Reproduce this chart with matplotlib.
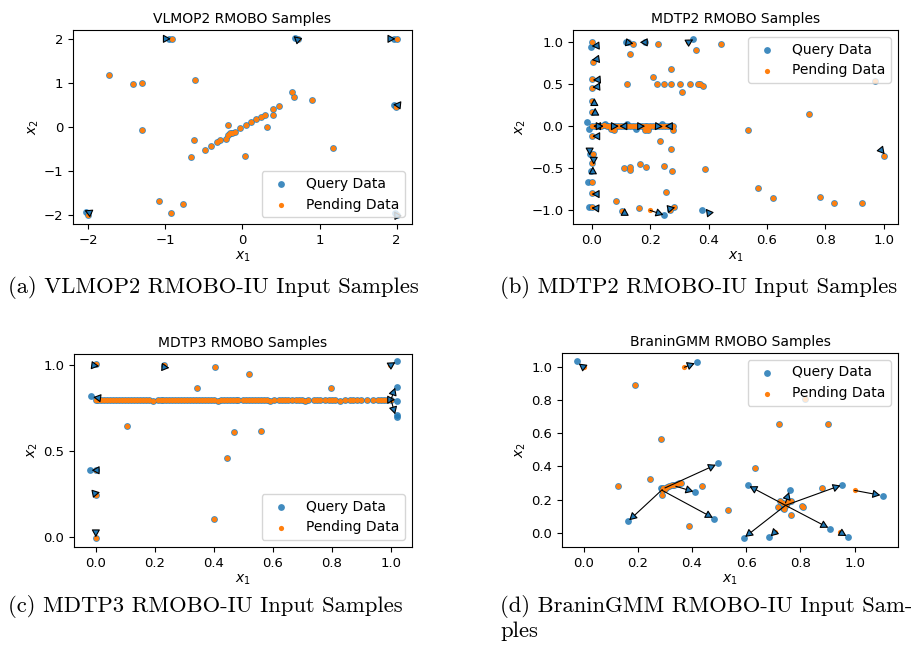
import matplotlib
matplotlib.use("Agg")
from matplotlib import pyplot as plt

#
# VLMOP2 samples (query == pending unless listed apart)
#
vlmop2_x = [-0.92, 0.72, 2.0, 1.99, -2.0, 2.0, -1.73, -1.42, -1.31, -0.61, -1.30, -0.635,
            -0.67, -0.49, -0.41, -0.336, -0.288, -0.22, -0.19, -0.19, -0.16, -0.13, -0.10,
            -0.03, 0.045, 0.03, 0.11, 0.18, 0.245, 0.29, 0.32, 0.40, 0.40, 0.48, 0.645,
            0.665, 0.90, 1.18, -1.08, -0.93, -0.77]
vlmop2_y = [2.0, 1.99, 2.0, 0.46, -2.0, -2.0, 1.17, 0.97, 0.99, 1.06, -0.07, -0.29,
            -0.68, -0.53, -0.42, -0.35, -0.30, -0.27, 0.04, -0.19, -0.14, -0.13, -0.11,
            -0.02, 0.04, -0.65, 0.105, 0.18, 0.225, 0.27, 0.0, 0.40, 0.27, 0.47, 0.79,
            0.67, 0.62, -0.47, -1.68, -1.95, -1.74]
vlmop2_qx = [-0.95, 0.68, 1.97, 1.97, -2.03, 1.98]
vlmop2_qy = [2.0, 2.03, 2.0, 0.5, -1.93, -1.95]
vlmop2_px = []
vlmop2_py = []
vlmop2_arrows = [(-1.0, 2.0, -0.93, 2.0), (0.71, 1.99, 0.665, 2.06), (1.92, 2.0, 1.985, 2.0),
                 (2.01, 0.5, 1.955, 0.51), (-1.96, -1.96, -2.05, -1.89), (2.0, -2.0, 1.97, -1.91)]

#
# MDTP2 samples
#
mdtp2_x = [0.0, 0.003, 0.0, 0.0, 0.0, 0.0, 0.0, 0.003, 0.0, 0.0, 0.0, 0.0,
           0.123, 0.14, 0.131, 0.18, 0.226, 0.27, 0.208, 0.12, 0.222, 0.246, 0.27, 0.303,
           0.309, 0.337, 0.363, 0.37, 0.38, 0.357, 0.441, 0.969, 0.744, 0.536, 0.57, 0.62,
           0.782, 0.829, 0.927, 1.0, 0.234, 0.27, 0.109, 0.131, 0.131, 0.163, 0.185, 0.246,
           0.275, 0.386, 0.253, 0.082, 0.104, 0.161, 0.266, 0.28,
           0.0, 0.01, 0.02, 0.03, 0.04, 0.05, 0.06, 0.07, 0.08, 0.09, 0.10, 0.11, 0.12,
           0.13, 0.14, 0.15, 0.16, 0.17, 0.18, 0.19, 0.20, 0.21, 0.22, 0.23, 0.24, 0.25,
           0.26, 0.27, 0.278, 0.066, 0.075, 0.18, 0.192, 0.278]
mdtp2_y = [1.0, 0.76, 0.56, 0.45, 0.30, 0.17, -0.12, -0.33, -0.44, -0.66, -0.80, -0.97,
           1.0, 0.976, 0.86, 1.0, 0.976, 0.68, 0.59, 0.50, 0.50, 0.50, 0.50, 0.50,
           0.41, 0.50, 0.50, 0.50, 0.48, 0.91, 0.976, 0.54, 0.15, -0.04, -0.734, -0.857,
           -0.849, -0.917, -0.92, -0.35, -0.18, -0.27, -0.504, -0.488, -0.52, -0.456, -0.49, -0.47,
           -0.536, -0.51, -0.79, -0.893, -1.008, -0.98, -1.004, -0.97,
           0.0, 0.005, 0.0, 0.0, 0.01, 0.0, 0.0, 0.0, 0.005, 0.0, 0.0, 0.005, 0.0,
           0.0, 0.0, 0.005, 0.0, 0.0, 0.0, 0.0, 0.0, 0.005, 0.0, 0.0, 0.0, 0.0,
           0.0, 0.0, 0.0, -0.03, -0.045, -0.048, -0.05, -0.048]
mdtp2_qx = [-0.005, -0.008, -0.005, -0.014, -0.011, -0.016, -0.009, 0.043, 0.12, 0.15,
            0.24, 0.347, 0.247, 0.377, 0.118]
mdtp2_qy = [0.94, -0.33, -0.53, -0.66, -0.96, 0.05, -0.03, 0.03, 0.03, -0.03,
            0.03, 1.04, -1.063, -1.004, 1.0]
mdtp2_px = [0.33, 0.199]
mdtp2_py = [1.0, -1.004]
mdtp2_arrows = [(0.020, 0.96, -0.001, 0.955), (0.020, 0.80, -0.001, 0.79), (0.024, 0.555, 0.003, 0.55),
                (0.022, 0.47, 0.001, 0.465), (0.008, 0.285, 0.008, 0.335), (0.011, 0.15, 0.011, 0.22),
                (0.022, -0.12, 0.001, -0.12), (-0.008, -0.29, -0.008, -0.35), (0.006, -0.39, 0.006, -0.46),
                (0.003, -0.55, 0.003, -0.48), (0.02, -0.81, -0.001, -0.81), (0.02, -0.98, -0.002, -0.975),
                (0.025, 0.0, 0.004, 0.0), (0.07, 0.0, 0.092, 0.0), (0.115, 0.0, 0.094, 0.0),
                (0.16, 0.0, 0.182, 0.0), (0.22, 0.0, 0.243, -0.005), (0.27, 0.0, 0.25, 0.0),
                (0.02, 0.0, 0.04, 0.0), (0.118, 1.0, 0.142, 0.985), (0.185, 1.0, 0.164, 1.0),
                (0.33, 1.0, 0.347, 1.035), (0.112, -1.03, 0.112, -0.975), (0.199, -1.004, 0.245, -1.058),
                (0.265, -0.985, 0.285, -0.97), (0.40, -1.03, 0.39, -0.985), (0.99, -0.28, 1.003, -0.335)]

#
# MDTP3 samples
#
mdtp3_x = [0.0, 0.232, 0.405, 0.345, 0.518, 0.798, 0.108, 0.468, 0.559, 0.445, 0.402,
           0.0, 0.0, 0.0]
mdtp3_y = [1.01, 1.0, 0.99, 0.868, 0.95, 0.866, 0.645, 0.612, 0.616, 0.461, 0.108,
           0.39, 0.248, -0.004]
mdtp3_line_x = [0.0, 0.01, 0.02, 0.03, 0.04, 0.05, 0.06, 0.07, 0.08, 0.09, 0.10, 0.11, 0.12,
                0.13, 0.14, 0.15, 0.16, 0.17, 0.18, 0.21, 0.22, 0.23, 0.24, 0.25, 0.26,
                0.27, 0.28, 0.29, 0.30, 0.31, 0.32, 0.33, 0.34, 0.35, 0.36, 0.37, 0.38,
                0.39, 0.40, 0.425, 0.435, 0.445, 0.455, 0.465, 0.475, 0.483, 0.50, 0.51,
                0.52, 0.53, 0.54, 0.55, 0.56, 0.57, 0.58, 0.605, 0.62, 0.63, 0.64, 0.65,
                0.665, 0.68, 0.69, 0.70, 0.72, 0.74, 0.75, 0.76, 0.775, 0.79, 0.80, 0.81,
                0.845, 0.86, 0.87, 0.885, 0.90, 0.92, 0.94, 0.955, 0.965, 0.975, 0.985, 1.0]
mdtp3_line_y = 0.80
mdtp3_dip_x = [0.195, 0.415, 0.59, 0.71, 0.828]
mdtp3_dip_y = 0.79
mdtp3_qx = [-0.014, -0.019, 1.02, 1.02, 1.02, 1.02, 1.02]
mdtp3_qy = [0.82, 0.39, 1.023, 0.872, 0.795, 0.713, 0.698]
mdtp3_px = [0.998]
mdtp3_py = [1.0]
mdtp3_arrows = [(-0.01, 1.0, 0.012, 0.995), (0.225, 0.99, 0.25, 0.985), (0.012, 0.81, -0.008, 0.815),
                (0.008, 0.39, -0.013, 0.39), (-0.005, 0.255, 0.015, 0.262), (0.001, 0.04, 0.001, 0.0),
                (0.998, 1.0, 1.015, 1.018), (1.0, 0.80, 1.014, 0.87), (0.995, 0.80, 1.014, 0.80),
                (1.0, 0.80, 1.014, 0.715)]

#
# BraninGMM samples
#
branin_x = [0.19, 0.286, 0.125, 0.243, 0.39, 0.438, 0.531, 0.632, 0.72, 0.902, 0.816, 0.879,
            0.288, 0.292, 0.307, 0.325, 0.344, 0.36, 0.288, 0.30, 0.315, 0.335, 0.352,
            0.724, 0.736, 0.755, 0.767, 0.716, 0.804, 0.81, 0.764, 0.745, 0.74]
branin_y = [0.89, 0.563, 0.283, 0.323, 0.04, 0.283, 0.138, 0.393, 0.653, 0.653, 0.804, 0.27,
            0.228, 0.27, 0.275, 0.285, 0.293, 0.30, 0.255, 0.265, 0.28, 0.29, 0.297,
            0.19, 0.18, 0.184, 0.192, 0.158, 0.164, 0.158, 0.104, 0.17, 0.14]
branin_qx = [-0.025, 0.417, 1.104, 0.163, 0.495, 0.482, 0.411, 0.605, 0.591, 0.953, 0.908,
             0.761, 0.685, 0.975, 0.736, 0.285]
branin_qy = [1.034, 1.03, 0.224, 0.068, 0.419, 0.084, 0.245, 0.285, -0.032, 0.289, 0.024,
             0.259, -0.028, -0.026, 0.148, 0.27]
branin_px = [0.0, 0.372, 1.0, 0.706, 0.945]
branin_py = [0.998, 0.998, 0.255, 0.004, 0.004]
branin_arrows = [(0.0, 0.998, -0.018, 1.02), (0.372, 0.998, 0.41, 1.022), (1.0, 0.255, 1.095, 0.226),
                 (0.29, 0.26, 0.168, 0.075), (0.30, 0.27, 0.488, 0.41), (0.29, 0.255, 0.477, 0.09),
                 (0.34, 0.28, 0.405, 0.248), (0.745, 0.165, 0.612, 0.28), (0.745, 0.165, 0.596, -0.025),
                 (0.745, 0.165, 0.948, 0.285), (0.745, 0.165, 0.903, 0.03), (0.745, 0.18, 0.758, 0.245),
                 (0.706, 0.004, 0.69, -0.022), (0.945, 0.004, 0.97, -0.02)]

captions = ['(a) VLMOP2 RMOBO-IU Input Samples', '(b) MDTP2 RMOBO-IU Input Samples',
            '(c) MDTP3 RMOBO-IU Input Samples', '(d) BraninGMM RMOBO-IU Input Sam-\nples']

#
# draw one panel
#
def plotSamples(ax, title, bx, by, qx, qy, px, py, arrows, xlim, ylim, loc):
    ax.scatter(list(bx) + list(qx), list(by) + list(qy), s=24, color='C0',
               alpha=0.85, linewidths=0, label='Query Data', zorder=2)
    ax.scatter(list(bx) + list(px), list(by) + list(py), s=14, color='C1',
               linewidths=0, label='Pending Data', zorder=3)
    for x0, y0, x1, y1 in arrows:
        ax.annotate('', xy=(x1, y1), xytext=(x0, y0), zorder=4,
                    arrowprops=dict(arrowstyle='-|>,head_length=0.45,head_width=0.25',
                                    ec='black', fc='C0', lw=0.8, shrinkA=0, shrinkB=0,
                                    mutation_scale=10))
    ax.set_xlim(xlim)
    ax.set_ylim(ylim)
    ax.set_title(title, fontsize=10, pad=5)
    ax.set_xlabel('$x_1$', fontsize=10, labelpad=2)
    ax.set_ylabel('$x_2$', fontsize=10, labelpad=2)
    ax.tick_params(labelsize=9.5)
    ax.legend(loc=loc, fontsize=10)


fig = plt.figure(figsize=(9.11, 6.51), dpi=100)

ax1 = fig.add_axes([0.0801, 0.6559, 0.3721, 0.2980])
plotSamples(ax1, 'VLMOP2 RMOBO Samples', vlmop2_x, vlmop2_y, vlmop2_qx, vlmop2_qy,
            vlmop2_px, vlmop2_py, vlmop2_arrows, (-2.2, 2.2), (-2.2, 2.2), 'lower right')
ax1.set_xticks([-2, -1, 0, 1, 2])
ax1.set_yticks([-2, -1, 0, 1, 2])

ax2 = fig.add_axes([0.629, 0.6559, 0.3568, 0.2980])
plotSamples(ax2, 'MDTP2 RMOBO Samples', mdtp2_x, mdtp2_y, mdtp2_qx, mdtp2_qy,
            mdtp2_px, mdtp2_py, mdtp2_arrows, (-0.065, 1.049), (-1.167, 1.147), 'upper right')
ax2.set_yticks([-1.0, -0.5, 0.0, 0.5, 1.0])

ax3 = fig.add_axes([0.0812, 0.1598, 0.371, 0.2965])
line_y = [mdtp3_line_y] * len(mdtp3_line_x)
dip_y = [mdtp3_dip_y] * len(mdtp3_dip_x)
plotSamples(ax3, 'MDTP3 RMOBO Samples', mdtp3_x + mdtp3_line_x + mdtp3_dip_x,
            mdtp3_y + line_y + dip_y, mdtp3_qx, mdtp3_qy, mdtp3_px, mdtp3_py,
            mdtp3_arrows, (-0.073, 1.071), (-0.056, 1.066), 'lower right')
ax3.set_yticks([0.0, 0.5, 1.0])

ax4 = fig.add_axes([0.6169, 0.1598, 0.3688, 0.298])
plotSamples(ax4, 'BraninGMM RMOBO Samples', branin_x, branin_y, branin_qx, branin_qy,
            branin_px, branin_py, branin_arrows, (-0.08, 1.16), (-0.086, 1.084), 'upper right')

# sub-figure captions
fig.text(8 / 911, 1 - 287 / 651, captions[0], fontfamily='cmr10', fontsize=16.3, va='center')
fig.text(500 / 911, 1 - 287 / 651, captions[1], fontfamily='cmr10', fontsize=16.3, va='center')
fig.text(8 / 911, 1 - 607 / 651, captions[2], fontfamily='cmr10', fontsize=16.3, va='center')
fig.text(500 / 911, 1 - 595 / 651, captions[3], fontfamily='cmr10', fontsize=16.3, va='top',
         linespacing=1.2)

plt.savefig('out.png', dpi=100)
